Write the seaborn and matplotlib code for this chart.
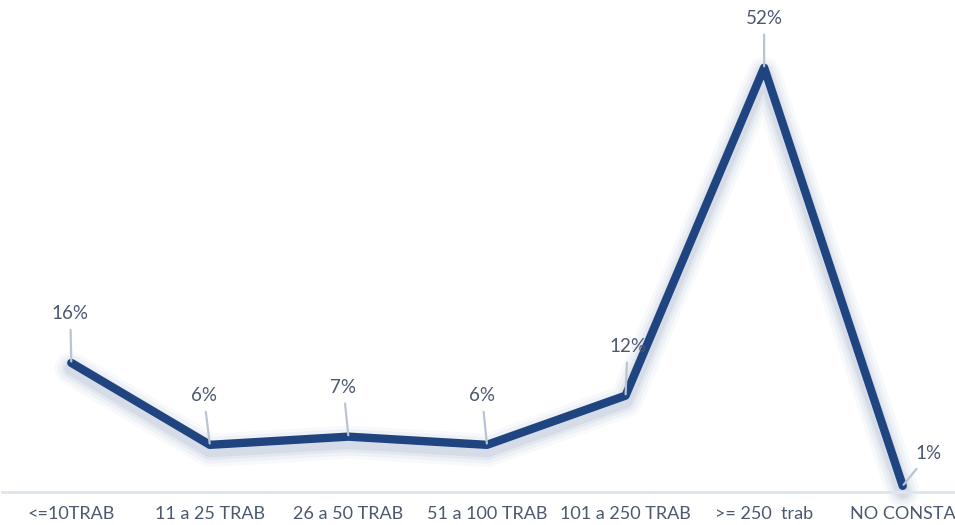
import matplotlib
matplotlib.use("Agg")
import matplotlib.pyplot as plt
import matplotlib.patheffects as pe
import seaborn as sns

categories = ["<=10TRAB", "11 a 25 TRAB", "26 a 50 TRAB", "51 a 100 TRAB",
              "101 a 250 TRAB", ">= 250  trab", "NO CONSTA"]
values = [16, 6, 7, 6, 12, 52, 1]
labels = ["16%", "6%", "7%", "6%", "12%", "52%", "1%"]
# label offsets (pixels) relative to each point
label_offsets = [(-1, 49), (-6, 49), (-5, 49), (-5, 49), (2, 49), (0, 49), (26, 32)]

sns.set_theme(style="white")
plt.rcParams["font.family"] = ["Lato", "DejaVu Sans"]

line_color = "#1f4480"
text_color = "#4b5870"
leader_color = "#b9c5d3"
axis_color = "#dfe5ec"

fig = plt.figure(figsize=(9.55, 5.25), dpi=100)
ax = fig.add_axes([2 / 955, 33 / 525, 970 / 955, 492 / 525])

shadow = [pe.SimpleLineShadow(offset=(0, -4), shadow_color=line_color, alpha=a, linewidth=w)
          for w, a in [(24, 0.03), (19, 0.04), (14, 0.05), (10, 0.07)]]
sns.lineplot(x=categories, y=values, sort=False, ax=ax, color=line_color, linewidth=6,
             path_effects=shadow + [pe.Normal()],
             solid_joinstyle="round", solid_capstyle="round", clip_on=False)

for i, (v, lab, off) in enumerate(zip(values, labels, label_offsets)):
    ax.annotate(lab, xy=(i, v), xytext=off, textcoords="offset pixels",
                ha="center", va="center", fontsize=13.5, color=text_color,
                arrowprops=dict(arrowstyle="-", color=leader_color, lw=1.6,
                                shrinkA=3, shrinkB=1), zorder=5)

ax.set_xlim(-0.5, 6.5)
ax.set_ylim(0.25, 60.25)
ax.set_yticks([])
for s in ["top", "left", "right"]:
    ax.spines[s].set_visible(False)
ax.spines["bottom"].set_color(axis_color)
ax.spines["bottom"].set_linewidth(2)
ax.set_xticks(range(len(categories)))
ax.set_xticklabels(categories, fontsize=13, color=text_color)
ax.tick_params(axis="x", which="major", length=0, pad=10)
ax.set_xticks([k + 0.5 for k in range(len(categories) - 1)], minor=True)
ax.tick_params(axis="x", which="minor", length=6, width=2, color=axis_color, direction="out")
ax.set_xlabel("")
ax.set_ylabel("")

fig.savefig("out.png", dpi=100, facecolor="white")
